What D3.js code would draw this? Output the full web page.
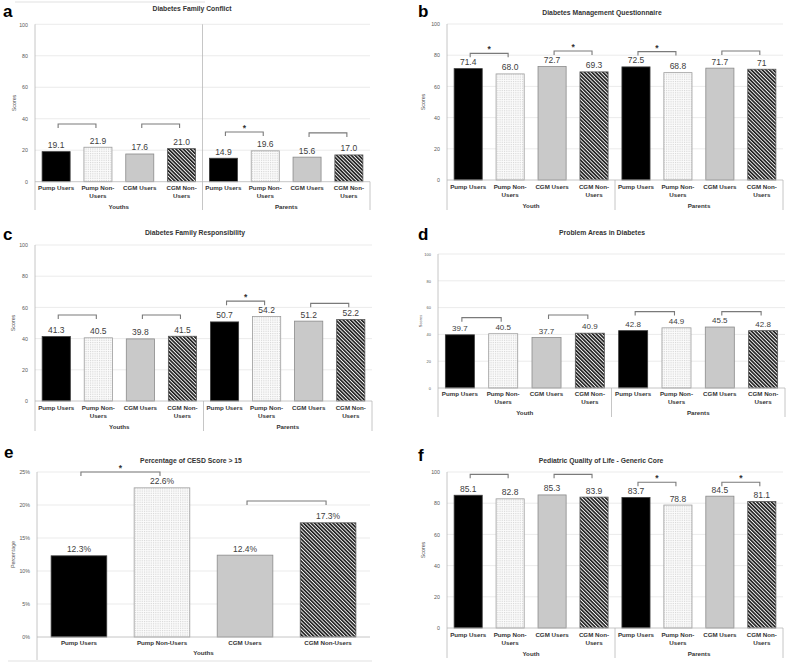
<!DOCTYPE html>
<html>
<head>
<meta charset="utf-8">
<script src="https://cdn.jsdelivr.net/npm/d3@7"></script>
<style>
body { margin: 0; background: #fff; }
</style>
</head>
<body>
<script>
// categories shared by every panel
var categories = ["Pump Users", "Pump Non-Users", "CGM Users", "CGM Non-Users"];

var groupsA = ["Youths", "Parents"];
var valuesA = [19.1, 21.9, 17.6, 21.0, 14.9, 19.6, 15.6, 17.0];
var bracketLevelsA = [36.7, 36.7, 31.6, 31.0];
var sigA = [false, false, true, false];

var groupsB = ["Youth", "Parents"];
var valuesB = [71.4, 68.0, 72.7, 69.3, 72.5, 68.8, 71.7, 71];
var labelsB = ["71.4", "68.0", "72.7", "69.3", "72.5", "68.8", "71.7", "71"];
var bracketLevelsB = [81.2, 82.7, 82.3, 82.7];
var sigB = [true, true, true, false];

var groupsC = ["Youths", "Parents"];
var valuesC = [41.3, 40.5, 39.8, 41.5, 50.7, 54.2, 51.2, 52.2];
var bracketLevelsC = [55.1, 55.1, 64.0, 62.6];
var sigC = [false, false, true, false];

var groupsD = ["Youth", "Parents"];
var valuesD = [39.7, 40.5, 37.7, 40.9, 42.8, 44.9, 45.5, 42.8];
var bracketLevelsD = [52.5, 54.5, 57.0, 57.0];
var sigD = [false, false, false, false];

var groupsE = ["Youths"];
var valuesE = [12.3, 22.6, 12.4, 17.3];
var bracketLevelsE = [25.0, 20.6];
var sigE = [true, false];

var groupsF = ["Youth", "Parents"];
var valuesF = [85.1, 82.8, 85.3, 83.9, 83.7, 78.8, 84.5, 81.1];
var bracketLevelsF = [98.5, 98.5, 93.4, 93.4];
var sigF = [false, false, true, true];

var scoreTicks = [0, 20, 40, 60, 80, 100];
var percentTicks = [0, 5, 10, 15, 20, 25];

var FONT = "'Liberation Sans', Arial, sans-serif";

var svg = d3.select("body").append("svg")
    .attr("width", 787)
    .attr("height", 666)
    .style("font-family", FONT);

// bar fills: black, dotted, gray, dark hatching
var defs = svg.append("defs");
var dots = defs.append("pattern").attr("id", "dots")
    .attr("patternUnits", "userSpaceOnUse").attr("width", 1.8).attr("height", 1.8);
dots.append("rect").attr("width", 1.8).attr("height", 1.8).attr("fill", "#fbfbfb");
dots.append("rect").attr("width", 0.7).attr("height", 0.7).attr("fill", "#bdbdbd");
var hatch = defs.append("pattern").attr("id", "hatch")
    .attr("patternUnits", "userSpaceOnUse").attr("width", 2.6).attr("height", 2.6)
    .attr("patternTransform", "rotate(-45)");
hatch.append("rect").attr("width", 2.6).attr("height", 2.6).attr("fill", "#f4f4f4");
hatch.append("rect").attr("width", 1.6).attr("height", 2.6).attr("fill", "#1a1a1a");

var fills = ["#000", "url(#dots)", "#c9c9c9", "url(#hatch)"];
var strokes = ["#3c3c3c", "#9c9c9c", "#8a8a8a", "#555"];

var fmt1 = d3.format(".1f");

var panels = [
  {letter: "a", lx: 3, ly: 17, title: "Diabetes Family Conflict", tx: 192, ty: 9,
   left: 35, right: 370, top: 24.3, zero: 181.7, box: 210, cat1: 6.5, grp: 25.5,
   values: valuesA, groups: groupsA, levels: bracketLevelsA, sig: sigA,
   ticks: scoreTicks, yTitle: "Scores", ytx: 14, fullSep: true, rightLine: true, wrap: true},
  {letter: "b", lx: 418, ly: 17, title: "Diabetes Management Questionnaire", tx: 602, ty: 13,
   left: 447, right: 783, top: 24, zero: 180, box: 210, cat1: 7, grp: 26,
   values: valuesB, labels: labelsB, groups: groupsB, levels: bracketLevelsB, sig: sigB,
   ticks: scoreTicks, yTitle: "Scores", ytx: 423, rightLine: true, wrap: true},
  {letter: "c", lx: 3, ly: 240, title: "Diabetes Family Responsibility", tx: 195, ty: 233,
   left: 35, right: 372, top: 245, zero: 401, box: 431, cat1: 7, grp: 26,
   values: valuesC, groups: groupsC, levels: bracketLevelsC, sig: sigC,
   ticks: scoreTicks, yTitle: "Scores", ytx: 13, rightLine: true, wrap: true},
  {letter: "d", lx: 418, ly: 240, title: "Problem Areas in Diabetes", tx: 602, ty: 233,
   left: 438, right: 785, top: 254, zero: 388, box: 417, cat1: 6, grp: 25, tickFont: 4, labelFont: 8,
   values: valuesD, groups: groupsD, levels: bracketLevelsD, sig: sigD,
   ticks: scoreTicks, yTitle: "Scores", ytx: 421, rightLine: true, wrap: true},
  {letter: "e", lx: 4, ly: 458, title: "Percentage of CESD Score > 15", tx: 191, ty: 461,
   left: 37, right: 370, top: 472, zero: 637, box: 660, cat1: 6, grp: 16,
   values: valuesE, groups: groupsE, levels: bracketLevelsE, sig: sigE, percent: true,
   ticks: percentTicks, yTitle: "Percentage", ytx: 13, rightLine: false, wrap: false},
  {letter: "f", lx: 418, ly: 461, title: "Pediatric Quality of Life - Generic Core", tx: 601, ty: 461,
   left: 447, right: 783, top: 472, zero: 628, box: 658, cat1: 7, grp: 26,
   values: valuesF, groups: groupsF, levels: bracketLevelsF, sig: sigF,
   ticks: scoreTicks, yTitle: "Scores", ytx: 423, rightLine: true, wrap: true}
];

// faint chart borders left over from the original crops
svg.append("line").attr("x1", 15).attr("x2", 205).attr("y1", 2).attr("y2", 2)
    .attr("stroke", "#d9d9d9").attr("stroke-width", 0.8);
svg.append("line").attr("x1", 8).attr("x2", 372).attr("y1", 661).attr("y2", 661)
    .attr("stroke", "#d9d9d9").attr("stroke-width", 0.8);

panels.forEach(drawPanel);

function drawPanel(p) {
  var g = svg.append("g");
  var n = p.values.length;
  var yMax = p.ticks[p.ticks.length - 1];

  var x = d3.scaleBand().domain(d3.range(n))
      .range([p.left, p.right]).paddingInner(0.33).paddingOuter(0.17);
  var y = d3.scaleLinear().domain([0, yMax]).range([p.zero, p.top]);
  var bw = x.bandwidth();

  // gridlines
  g.selectAll("line.grid").data(p.ticks.slice(1)).join("line")
      .attr("class", "grid")
      .attr("x1", p.left).attr("x2", p.right)
      .attr("y1", d => y(d)).attr("y2", d => y(d))
      .attr("stroke", "#e6e6e6").attr("stroke-width", 0.8);

  // y tick labels
  var ax = g.append("g")
      .attr("transform", "translate(" + p.left + ",0)")
      .call(d3.axisLeft(y).tickValues(p.ticks).tickSize(0).tickPadding(7)
        .tickFormat(d => p.percent ? d + "%" : d));
  ax.select(".domain").remove();
  ax.attr("font-family", FONT).attr("font-size", p.tickFont || 5.3);
  ax.selectAll("text").attr("fill", "#595959");

  // y title
  g.append("text")
      .attr("transform", "translate(" + p.ytx + "," + ((p.top + p.zero) / 2) + ") rotate(-90)")
      .attr("text-anchor", "middle").attr("dy", "0.35em")
      .attr("font-size", p.tickFont || 5.3).attr("fill", "#595959")
      .text(p.yTitle);

  // bars
  g.selectAll("rect.bar").data(p.values).join("rect")
      .attr("class", "bar")
      .attr("x", (d, i) => x(i)).attr("y", d => y(d))
      .attr("width", bw).attr("height", d => p.zero - y(d))
      .attr("fill", (d, i) => fills[i % 4])
      .attr("stroke", (d, i) => strokes[i % 4]).attr("stroke-width", 0.8);

  // value labels
  g.selectAll("text.val").data(p.values).join("text")
      .attr("class", "val")
      .attr("x", (d, i) => x(i) + bw / 2).attr("y", d => y(d) - 6.5)
      .attr("dy", "0.35em").attr("text-anchor", "middle")
      .attr("font-size", p.labelFont || 8.5).attr("fill", "#404040")
      .text((d, i) => p.labels ? p.labels[i] : (p.percent ? fmt1(d) + "%" : fmt1(d)));

  // axis line and category box
  var lineCol = "#b8b8b8";
  g.append("line").attr("x1", p.left).attr("x2", p.right)
      .attr("y1", p.zero).attr("y2", p.zero).attr("stroke", lineCol).attr("stroke-width", 0.8);
  g.append("line").attr("x1", p.left).attr("x2", p.left)
      .attr("y1", p.top).attr("y2", p.box).attr("stroke", lineCol).attr("stroke-width", 0.8);
  if (p.rightLine) {
    g.append("line").attr("x1", p.right).attr("x2", p.right)
        .attr("y1", p.zero).attr("y2", p.box).attr("stroke", lineCol).attr("stroke-width", 0.8);
  }
  var gw = (p.right - p.left) / p.groups.length;
  for (var k = 1; k < p.groups.length; k++) {
    g.append("line").attr("x1", p.left + k * gw).attr("x2", p.left + k * gw)
        .attr("y1", p.fullSep ? p.top : p.zero).attr("y2", p.box)
        .attr("stroke", lineCol).attr("stroke-width", 0.8);
  }

  // category labels
  var cat = g.selectAll("text.cat").data(d3.range(n)).join("text")
      .attr("class", "cat")
      .attr("text-anchor", "middle").attr("font-size", 6.2).attr("font-weight", "bold")
      .attr("fill", "#333");
  cat.each(function(i) {
    var name = categories[i % 4];
    var lines = p.wrap && name.indexOf("Non-") >= 0 ? [name.split("Non-")[0] + "Non-", "Users"] : [name];
    d3.select(this).selectAll("tspan").data(lines).join("tspan")
        .attr("x", x(i) + bw / 2)
        .attr("y", (d, j) => p.zero + p.cat1 + j * 8)
        .attr("dy", "0.35em")
        .text(d => d);
  });

  // group labels
  g.selectAll("text.grp").data(p.groups).join("text")
      .attr("class", "grp")
      .attr("x", (d, k) => p.left + (k + 0.5) * gw).attr("y", p.zero + p.grp)
      .attr("dy", "0.35em").attr("text-anchor", "middle")
      .attr("font-size", 6.2).attr("font-weight", "bold").attr("fill", "#333")
      .text(d => d);

  // comparison brackets
  p.levels.forEach(function(lv, k) {
    var x1 = x(2 * k) + bw / 2 + 2;
    var x2 = x(2 * k + 1) + bw / 2 - 2;
    var yy = y(lv);
    g.append("path")
        .attr("d", "M" + x1 + "," + (yy + 4) + "V" + yy + "H" + x2 + "V" + (yy + 4))
        .attr("fill", "none").attr("stroke", "#7a7a7a").attr("stroke-width", 1.1);
    if (p.sig[k]) {
      g.append("text").attr("x", (x1 + x2) / 2).attr("y", yy - 4)
          .attr("dy", "0.35em").attr("text-anchor", "middle")
          .attr("font-size", 8.5).attr("font-weight", "bold").attr("fill", "#333")
          .text("*");
    }
  });

  // title and panel letter
  g.append("text").attr("x", p.tx).attr("y", p.ty).attr("dy", "0.35em")
      .attr("text-anchor", "middle").attr("font-size", 6.8).attr("font-weight", "bold")
      .attr("fill", "#333").text(p.title);
  g.append("text").attr("x", p.lx).attr("y", p.ly)
      .attr("font-size", 17).attr("font-weight", "bold").attr("fill", "#000")
      .text(p.letter);
}
</script>
</body>
</html>
